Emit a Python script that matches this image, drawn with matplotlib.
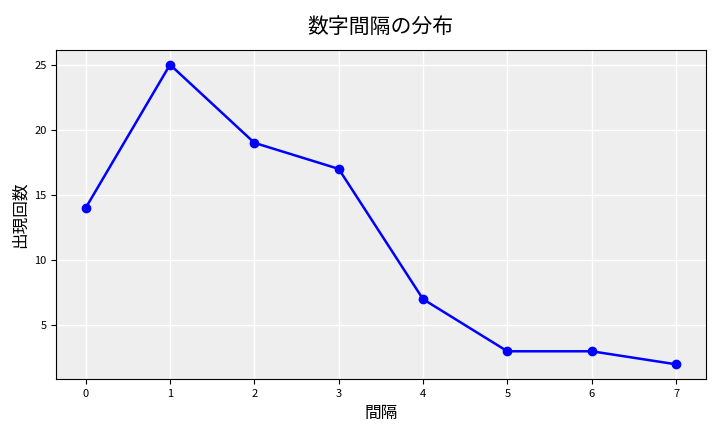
import matplotlib
matplotlib.use('Agg')
import matplotlib.pyplot as plt

plt.rcParams['font.family'] = ['Noto Sans CJK JP', 'DejaVu Sans']

intervals = [0, 1, 2, 3, 4, 5, 6, 7]
counts = [14, 25, 19, 17, 7, 3, 3, 2]

fig, ax = plt.subplots(figsize=(7.2, 4.32), dpi=100)
ax.set_facecolor('#eeeeee')
ax.grid(True, color='white', linewidth=1)
ax.set_axisbelow(True)

ax.plot(intervals, counts, color='blue', marker='o', markersize=6, linewidth=1.8)

ax.set_title('数字間隔の分布', fontsize=15, pad=12)
ax.set_xlabel('間隔', fontsize=12)
ax.set_ylabel('出現回数', fontsize=12)
ax.tick_params(labelsize=8)
ax.set_xticks(intervals)
ax.set_yticks([5, 10, 15, 20, 25])

fig.subplots_adjust(left=0.078, right=0.980, top=0.885, bottom=0.122)
fig.savefig('out.png', dpi=100)
